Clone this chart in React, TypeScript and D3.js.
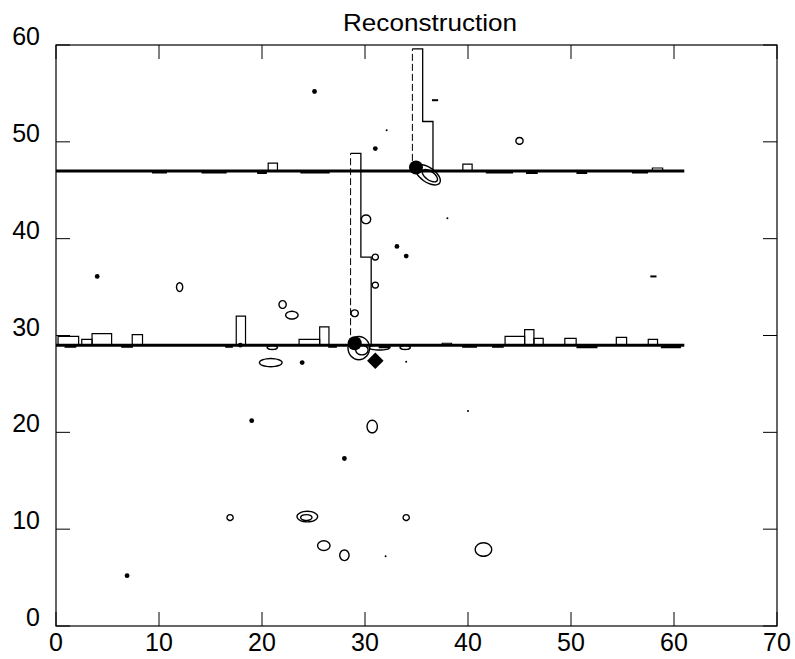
import React from "react";
import * as d3 from "d3";

// axis ticks
const xTicks = [0, 10, 20, 30, 40, 50, 60, 70];
const yTicks = [0, 10, 20, 30, 40, 50, 60];

// the two long ridges: level and x extent
const ridgeLevels = [47, 29];
const ridgeSpan = [0, 61];

// steps above / below each ridge: [x0, x1, level]
const bumps47 = [[20.6, 21.5, 47.8], [39.5, 40.4, 47.7], [57.9, 58.9, 47.3]];
const dips47 = [
  [9.4, 10.7, 46.8], [14.2, 16.5, 46.8], [19.6, 20.4, 46.75], [23.8, 26.5, 46.8],
  [41.8, 44.3, 46.8], [45.7, 46.7, 46.75], [50.6, 51.5, 46.75], [56, 57.4, 46.8],
];
const bumps29 = [
  [0.2, 2.2, 29.9], [2.5, 3.5, 29.6], [3.5, 5.4, 30.2], [7.4, 8.4, 30.1],
  [17.5, 18.4, 32.0], [23.6, 25.6, 29.6], [25.6, 26.5, 30.9], [37.5, 38.4, 29.2],
  [43.6, 45.5, 29.9], [45.5, 46.4, 30.6], [46.4, 47.3, 29.7], [49.4, 50.5, 29.7],
  [54.4, 55.4, 29.8], [57.5, 58.4, 29.6],
];
const dips29 = [
  [0.9, 1.9, 28.8], [6.4, 7.4, 28.8], [16.5, 17.1, 28.8], [26.5, 27.2, 28.8],
  [31.4, 32.4, 28.75], [39.5, 40.8, 28.8], [42.4, 43.4, 28.8], [50.6, 52.5, 28.75],
  [58.8, 60.6, 28.75],
];

// vertical columns (outline points)
const columnUpper = [[34.6, 47], [34.6, 59.6], [35.6, 59.6], [35.6, 52.1], [36.6, 52.1], [36.6, 47]];
const columnMiddle = [[28.6, 29], [28.6, 48.8], [29.6, 48.8], [29.6, 38.1], [30.6, 38.1], [30.6, 29]];

// closed contour loops: [cx, cy, rx, ry, tilt]
const loops = [
  [45.0, 50.1, 0.35, 0.35, 0],
  [12.0, 35.0, 0.3, 0.45, 0],
  [22.0, 33.2, 0.35, 0.4, 0],
  [22.9, 32.1, 0.6, 0.4, 0],
  [29.0, 32.3, 0.35, 0.35, 0],
  [30.1, 42.0, 0.45, 0.45, 0],
  [31.0, 38.1, 0.3, 0.3, 0],
  [31.0, 35.2, 0.3, 0.3, 0],
  [20.85, 27.2, 1.1, 0.42, 0],
  [30.7, 20.6, 0.5, 0.65, 0],
  [16.9, 11.2, 0.3, 0.3, 0],
  [24.4, 11.3, 1.0, 0.55, 0],
  [24.3, 11.2, 0.55, 0.3, 0],
  [26.0, 8.3, 0.6, 0.5, 0],
  [28.0, 7.3, 0.45, 0.55, 0],
  [34.0, 11.2, 0.3, 0.3, 0],
  [41.5, 7.9, 0.8, 0.7, 0],
  [36.1, 46.6, 1.4, 0.75, 35],
  [36.3, 46.5, 0.85, 0.45, 35],
  [29.4, 28.7, 1.05, 1.2, 0],
  [29.7, 28.5, 0.6, 0.5, 0],
  [31.4, 28.75, 1.0, 0.25, 0],
  [33.9, 28.75, 0.5, 0.2, 0],
  [21.0, 28.75, 0.5, 0.2, 0],
];

// peaks and points
const bigPeaks = [[29.0, 29.2], [34.95, 47.35]];
const dots = [
  [25.1, 55.2], [31.0, 49.3], [4.0, 36.1], [33.1, 39.2], [34.0, 38.2],
  [23.9, 27.2], [19.0, 21.2], [28.0, 17.3], [6.9, 5.2], [17.9, 29.0],
];
const tinyDots = [[32.0, 7.2], [40.0, 22.2], [38.0, 42.1], [34.0, 27.3], [32.1, 51.2]];
const dashes = [[36.5, 37.1, 54.3], [57.7, 58.3, 36.1]];
const diamond = [31.0, 27.4, 0.8, 0.85];

const W = 795;
const H = 659;
const margin = { left: 56, right: 18, top: 45, bottom: 33 };
const FONT = "'Liberation Sans', Arial, Helvetica, sans-serif";

export default function App() {
  const x = d3.scaleLinear().domain([0, 70]).range([margin.left, W - margin.right]);
  const y = d3.scaleLinear().domain([0, 60]).range([H - margin.bottom, margin.top]);
  const line = d3.line<number[]>().x((d) => x(d[0])).y((d) => y(d[1]));
  const tick = 14;

  const stepPath = (s: number[], base: number) =>
    line([[s[0], base], [s[0], s[2]], [s[1], s[2]], [s[1], base]]);

  const loopPath = (l: number[]) => {
    const [cx, cy, rx, ry] = l;
    const pts = d3.range(16).map((i) => {
      const a = (i / 16) * Math.PI * 2;
      return [cx + rx * Math.cos(a), cy + ry * Math.sin(a)];
    });
    return d3.line<number[]>().x((d) => x(d[0])).y((d) => y(d[1])).curve(d3.curveCardinalClosed)(pts);
  };

  return (
    <svg width={W} height={H} style={{ position: "absolute", left: 0, top: 0, background: "#fff" }}>
      <rect x={0} y={0} width={W} height={H} fill="#fff" />
      <text x={430} y={31} textAnchor="middle" fontFamily={FONT} fontSize={24} textLength={174} lengthAdjust="spacingAndGlyphs">
        Reconstruction
      </text>

      {/* frame */}
      <rect x={x(0)} y={y(60)} width={x(70) - x(0)} height={y(0) - y(60)} fill="none" stroke="#000" strokeWidth={1.2} />

      {/* ticks */}
      {xTicks.map((t) => (
        <g key={"x" + t}>
          <line x1={x(t)} x2={x(t)} y1={y(0)} y2={y(0) - tick} stroke="#000" strokeWidth={1} />
          <line x1={x(t)} x2={x(t)} y1={y(60)} y2={y(60) + tick} stroke="#000" strokeWidth={1} />
          <text x={x(t)} y={y(0) + 25} textAnchor="middle" fontFamily={FONT} fontSize={25}>
            {t}
          </text>
        </g>
      ))}
      {yTicks.map((t) => (
        <g key={"y" + t}>
          <line x1={x(0)} x2={x(0) + tick} y1={y(t)} y2={y(t)} stroke="#000" strokeWidth={1} />
          <line x1={x(70)} x2={x(70) - tick} y1={y(t)} y2={y(t)} stroke="#000" strokeWidth={1} />
          <text x={40} y={y(t)} textAnchor="end" fontFamily={FONT} fontSize={25}>
            {t}
          </text>
        </g>
      ))}

      {/* ridges */}
      {ridgeLevels.map((lv) => (
        <path key={"r" + lv} d={line([[ridgeSpan[0], lv], [ridgeSpan[1], lv]]) || ""} stroke="#000" strokeWidth={3} fill="none" />
      ))}
      {bumps47.map((s, i) => (
        <path key={"b47" + i} d={stepPath(s, 47) || ""} stroke="#000" strokeWidth={1.2} fill="none" />
      ))}
      {dips47.map((s, i) => (
        <path key={"d47" + i} d={stepPath(s, 47) || ""} stroke="#000" strokeWidth={1.5} fill="#000" />
      ))}
      {bumps29.map((s, i) => (
        <path key={"b29" + i} d={stepPath(s, 29) || ""} stroke="#000" strokeWidth={1.2} fill="none" />
      ))}
      {dips29.map((s, i) => (
        <path key={"d29" + i} d={stepPath(s, 29) || ""} stroke="#000" strokeWidth={1.5} fill="#000" />
      ))}

      {/* columns: dashed left edge, solid remainder */}
      {[columnUpper, columnMiddle].map((c, i) => (
        <g key={"c" + i}>
          <path d={line(c.slice(0, 2)) || ""} stroke="#000" strokeWidth={1} strokeDasharray="7,3" fill="none" />
          <path d={line(c.slice(1)) || ""} stroke="#000" strokeWidth={1.3} fill="none" />
        </g>
      ))}

      {/* contour loops */}
      {loops.map((l, i) => (
        <path
          key={"l" + i}
          d={loopPath(l) || ""}
          transform={l[4] ? `rotate(${l[4]} ${x(l[0])} ${y(l[1])})` : undefined}
          stroke="#000"
          strokeWidth={1.4}
          fill="none"
        />
      ))}

      {/* peaks */}
      {bigPeaks.map((p, i) => (
        <circle key={"p" + i} cx={x(p[0])} cy={y(p[1])} r={7} fill="#000" />
      ))}
      {dots.map((p, i) => (
        <circle key={"dot" + i} cx={x(p[0])} cy={y(p[1])} r={2.4} fill="#000" />
      ))}
      {tinyDots.map((p, i) => (
        <circle key={"t" + i} cx={x(p[0])} cy={y(p[1])} r={1} fill="#000" />
      ))}
      {dashes.map((s, i) => (
        <path key={"ds" + i} d={line([[s[0], s[2]], [s[1], s[2]]]) || ""} stroke="#000" strokeWidth={2} />
      ))}
      <path
        d={
          line([
            [diamond[0] - diamond[2], diamond[1]],
            [diamond[0], diamond[1] + diamond[3]],
            [diamond[0] + diamond[2], diamond[1]],
            [diamond[0], diamond[1] - diamond[3]],
          ]) + "Z"
        }
        fill="#000"
      />
    </svg>
  );
}
